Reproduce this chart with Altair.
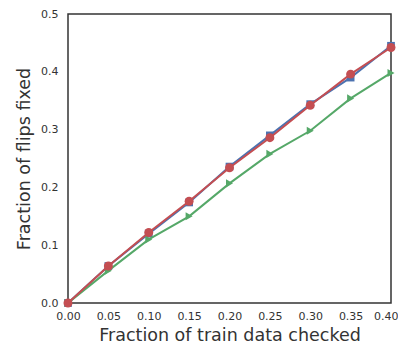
import altair as alt
import pandas as pd

x_vals = [0.00, 0.05, 0.10, 0.15, 0.20, 0.25, 0.30, 0.35, 0.40]
blue_vals = [0.0, 0.064, 0.120, 0.174, 0.236, 0.290, 0.344, 0.390, 0.445]
green_vals = [0.0, 0.056, 0.110, 0.150, 0.207, 0.258, 0.298, 0.354, 0.398]
red_vals = [0.0, 0.064, 0.122, 0.176, 0.234, 0.286, 0.342, 0.396, 0.442]

series_names = ["blue", "green", "red"]
series_colors = ["#4C72B0", "#55A868", "#C44E52"]
series_shapes = ["square", "triangle-right", "circle"]
series_sizes = [60, 65, 80]

rows = []
for name, vals in zip(series_names, [blue_vals, green_vals, red_vals]):
    for x, y in zip(x_vals, vals):
        rows.append({"x": x, "y": y, "s": name})
df = pd.DataFrame(rows)

last_test = "datum.value >= 0.399"
xs = alt.X("x:Q", scale=alt.Scale(domain=[0, 0.4], nice=False),
           axis=alt.Axis(values=x_vals, format=".2f", title="Fraction of train data checked",
                         labelFlush=False, labelOverlap=False, labelPadding=7, titlePadding=5,
                         labelAlign={"condition": {"test": last_test, "value": "right"}, "value": "center"},
                         labelOffset={"condition": {"test": last_test, "value": 7}, "value": 0}))
ys = alt.Y("y:Q", scale=alt.Scale(domain=[0, 0.5], nice=False),
           axis=alt.Axis(values=[0, 0.1, 0.2, 0.3, 0.4, 0.5], format=".1f", title="Fraction of flips fixed",
                         labelFlush=False, labelOverlap=False, labelPadding=10, titlePadding=7))
col = alt.Color("s:N", scale=alt.Scale(domain=series_names, range=series_colors), legend=None)
shp = alt.Shape("s:N", scale=alt.Scale(domain=series_names, range=series_shapes), legend=None)

layers = []
for name, sz in zip(series_names, series_sizes):
    sub = df[df.s == name]
    base = alt.Chart(sub)
    layers.append(base.mark_line(strokeWidth=2, clip=False).encode(x=xs, y=ys, color=col))
    layers.append(base.mark_point(filled=True, size=sz, opacity=1, clip=False).encode(x=xs, y=ys, color=col, shape=shp))

chart = alt.layer(*layers).properties(
    width=323, height=289,
    autosize=alt.AutoSizeParams(type="none"),
    padding={"left": 60, "top": 6, "right": 7, "bottom": 46},
).configure_view(stroke="#333333", strokeWidth=1.5).configure_axis(
    grid=False, ticks=False, domain=False, labelFont="DejaVu Sans", labelFontSize=11,
    labelColor="#333333", titleFont="DejaVu Sans", titleFontSize=17.5, titleFontWeight="normal",
    titleColor="#333333",
)

chart.save("out.html", embed_options={"renderer": "svg", "actions": False})
